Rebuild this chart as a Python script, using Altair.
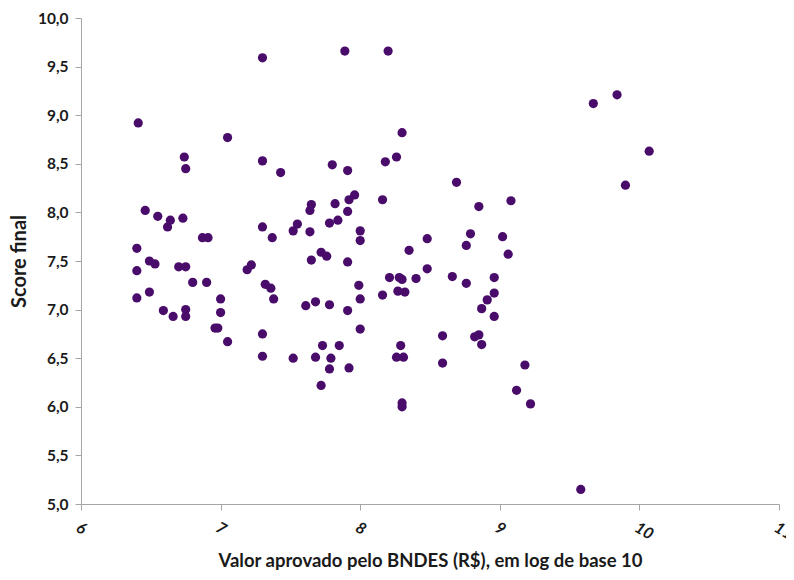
import altair as alt
import pandas as pd

x_vals = [6.41, 7.30, 7.05, 6.74, 6.75, 7.30, 7.43, 6.46, 6.55, 6.64,
          6.62, 6.73, 7.30, 7.37, 6.87, 6.91, 7.52, 7.55, 6.40, 6.40,
          6.49, 6.53, 6.70, 6.75, 6.80, 6.90, 7.19, 7.22, 7.32, 7.36,
          6.40, 7.38, 7.00, 6.49, 6.59, 6.66, 6.75, 6.75, 7.00, 6.96,
          6.98, 7.05, 7.30, 7.30, 7.52, 7.89, 8.20, 8.30, 8.18, 8.26,
          7.80, 7.91, 8.69, 7.96, 7.92, 8.16, 7.65, 7.64, 7.82, 7.91,
          8.85, 9.08, 7.64, 7.78, 7.84, 8.00, 8.00, 8.79, 8.76, 9.02,
          9.06, 8.48, 8.35, 7.65, 7.72, 7.76, 7.91, 8.48, 8.21, 8.28,
          8.30, 8.40, 8.66, 8.76, 8.96, 7.99, 8.27, 8.32, 8.96, 8.16,
          8.00, 7.68, 8.91, 7.61, 7.78, 7.91, 8.00, 8.87, 8.96, 7.73,
          7.85, 7.68, 7.79, 7.78, 7.92, 7.72, 8.29, 8.26, 8.31, 8.30,
          8.30, 8.59, 8.59, 8.82, 8.85, 8.87, 9.18, 9.12, 9.22, 9.84,
          9.67, 10.07, 9.90, 9.58]
y_vals = [8.92, 9.59, 8.77, 8.57, 8.45, 8.53, 8.41, 8.02, 7.96, 7.92,
          7.85, 7.94, 7.85, 7.74, 7.74, 7.74, 7.81, 7.88, 7.63, 7.40,
          7.50, 7.47, 7.44, 7.44, 7.28, 7.28, 7.41, 7.46, 7.26, 7.22,
          7.12, 7.11, 7.11, 7.18, 6.99, 6.93, 7.00, 6.93, 6.97, 6.81,
          6.81, 6.67, 6.75, 6.52, 6.50, 9.66, 9.66, 8.82, 8.52, 8.57,
          8.49, 8.43, 8.31, 8.18, 8.13, 8.13, 8.08, 8.02, 8.09, 8.01,
          8.06, 8.12, 7.80, 7.89, 7.92, 7.81, 7.71, 7.78, 7.66, 7.75,
          7.57, 7.73, 7.61, 7.51, 7.59, 7.55, 7.49, 7.42, 7.33, 7.33,
          7.31, 7.32, 7.34, 7.27, 7.33, 7.25, 7.19, 7.18, 7.17, 7.15,
          7.11, 7.08, 7.10, 7.04, 7.05, 6.99, 6.80, 7.01, 6.93, 6.63,
          6.63, 6.51, 6.50, 6.39, 6.40, 6.22, 6.63, 6.51, 6.51, 6.04,
          6.00, 6.73, 6.45, 6.72, 6.74, 6.64, 6.43, 6.17, 6.03, 9.21,
          9.12, 8.63, 8.28, 5.15]

x_ticks = [6, 7, 8, 9, 10, 11]
y_ticks = [5.0, 5.5, 6.0, 6.5, 7.0, 7.5, 8.0, 8.5, 9.0, 9.5, 10.0]

df = pd.DataFrame({"x": x_vals, "y": y_vals})

FONT = "Lato"
AXIS_COLOR = "#a6a6a6"
TEXT_COLOR = "#1a1a1a"

chart = alt.Chart(df).mark_circle(size=85, opacity=1, color="#4a0c6b").encode(
    x=alt.X("x:Q",
            scale=alt.Scale(domain=[6, 11], nice=False, zero=False),
            axis=alt.Axis(values=x_ticks, title="Valor aprovado pelo BNDES (R$), em log de base 10",
                          grid=False, domainColor=AXIS_COLOR, tickColor=AXIS_COLOR,
                          tickSize=6, labelAngle=30, labelPadding=9,
                          labelFont=FONT, labelFontSize=16, labelFontStyle="italic",
                          labelColor=TEXT_COLOR, labelFontWeight="bold",
                          titleFont=FONT, titleFontSize=18.5, titleFontWeight="bold",
                          titleColor=TEXT_COLOR, titlePadding=9, format="d")),
    y=alt.Y("y:Q",
            scale=alt.Scale(domain=[5, 10], nice=False, zero=False),
            axis=alt.Axis(values=y_ticks, title="Score final", grid=False,
                          domainColor=AXIS_COLOR, tickColor=AXIS_COLOR, tickSize=6,
                          labelPadding=7,
                          labelExpr="replace(format(datum.value, '.1f'), '.', ',')",
                          labelFont=FONT, labelFontSize=15.5, labelFontWeight="bold",
                          labelColor=TEXT_COLOR,
                          titleFont=FONT, titleFontSize=20, titleFontWeight="bold",
                          titleColor=TEXT_COLOR, titlePadding=8)),
).properties(
    width=698, height=486,
    autosize=alt.AutoSizeParams(type="none"),
    padding={"left": 73, "top": 10, "right": 7, "bottom": 68},
).configure_view(stroke=None)

chart.save("out.html", embed_options={"renderer": "svg", "actions": False})
